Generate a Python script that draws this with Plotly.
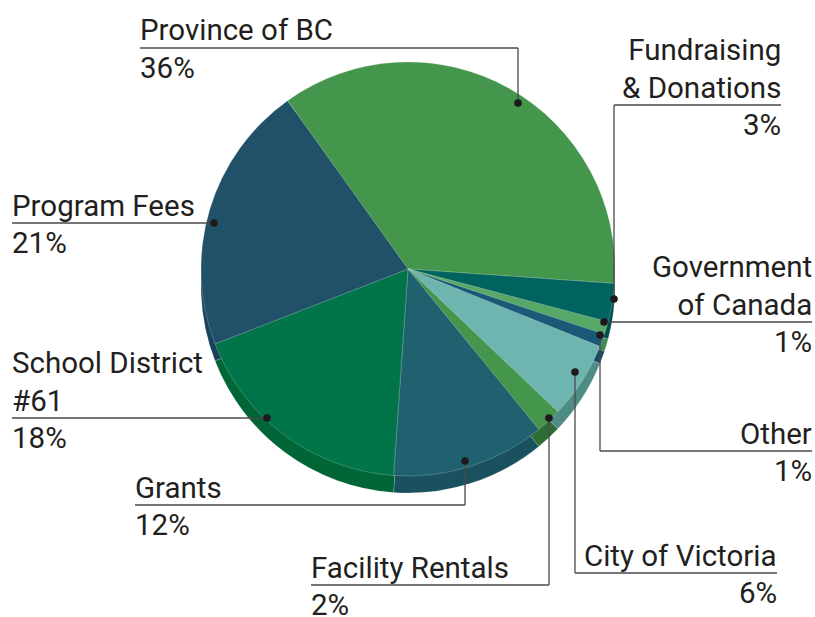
import plotly.graph_objects as go

W, H = 815, 617

labels = ["Province of BC", "Fundraising & Donations", "Government of Canada", "Other",
          "City of Victoria", "Facility Rentals", "Grants", "School District #61", "Program Fees"]
values = [36, 3, 1, 1, 6, 2, 12, 18, 21]
top_colors = ["#43964C", "#00635F", "#55A865", "#1A5A78", "#6DB5AE",
              "#43964C", "#20616F", "#01744A", "#205168"]
side_colors = ["#367A3E", "#004E4B", "#428A50", "#134A63", "#4F8C86",
               "#2E6E35", "#19515E", "#006638", "#18435A"]
label_texts = ["Province of BC", "Fundraising<br>& Donations", "Government<br>of Canada", "Other",
               "City of Victoria", "Facility Rentals", "Grants", "School District<br>#61", "Program Fees"]
pct_texts = ["36%", "3%", "1%", "1%", "6%", "2%", "12%", "18%", "21%"]

# leader layout (pixels): dot, underline y, underline span, text side
leaders = [
    dict(dot=(518, 103), uy=48, x0=140, x1=518, side="left"),
    dict(dot=(614, 299), uy=105, x0=614, x1=781, side="right"),
    dict(dot=(604, 322), uy=322, x0=604, x1=812, side="right"),
    dict(dot=(600, 335), uy=451, x0=600, x1=812, side="right"),
    dict(dot=(575, 372), uy=573, x0=575, x1=777, side="right"),
    dict(dot=(549, 418), uy=585, x0=311, x1=549, side="left"),
    dict(dot=(465, 461), uy=505, x0=135, x1=465, side="left"),
    dict(dot=(267, 418), uy=418, x0=12, x1=267, side="left"),
    dict(dot=(214, 223), uy=223, x0=12, x1=214, side="left"),
]

cx, cy, r, depth = 408, 269, 207, 17
rotation = -35.6

def dom(cx, cy, r):
    return dict(x=[(cx - r) / W, (cx + r) / W], y=[1 - (cy + r) / H, 1 - (cy - r) / H])

fig = go.Figure()
fig.add_trace(go.Pie(labels=labels, values=values, sort=False, direction="clockwise",
                     rotation=rotation, textinfo="none", hoverinfo="skip",
                     marker=dict(colors=side_colors, line=dict(color="rgba(255,255,255,0.25)", width=0.6)),
                     domain=dom(cx, cy + depth, r), showlegend=False))
fig.add_trace(go.Pie(labels=labels, values=values, sort=False, direction="clockwise",
                     rotation=rotation, textinfo="none", hoverinfo="label+percent",
                     marker=dict(colors=top_colors, line=dict(color="rgba(255,255,255,0.35)", width=0.6)),
                     domain=dom(cx, cy, r), showlegend=False))

shapes = []
annotations = []
font = dict(family="Roboto", size=29.5, color="#231F20")
for i, L in enumerate(leaders):
    dx, dy = L["dot"]
    uy = L["uy"]
    line_style = dict(color="#4A4A4C", width=1.3)
    shapes.append(dict(type="line", x0=L["x0"], x1=L["x1"], y0=uy, y1=uy,
                       xref="x", yref="y", line=line_style, layer="above"))
    if abs(dy - uy) > 1:
        vx = L["x1"] if L["side"] == "left" else L["x0"]
        shapes.append(dict(type="line", x0=vx, x1=vx, y0=dy, y1=uy,
                           xref="x", yref="y", line=line_style, layer="above"))
    shapes.append(dict(type="circle", x0=dx - 3.8, x1=dx + 3.8, y0=dy - 3.8, y1=dy + 3.8,
                       xref="x", yref="y", fillcolor="#1E1A1B", line=dict(width=0), layer="above"))
    if L["side"] == "left":
        tx, xa, al = L["x0"] - 2, "left", "left"
    else:
        tx, xa, al = L["x1"] + 2, "right", "right"
    annotations.append(dict(x=tx, y=uy + 1.5, xref="x", yref="y", text=label_texts[i],
                            xanchor=xa, yanchor="bottom", align=al, showarrow=False, font=font))
    annotations.append(dict(x=tx, y=uy + 1, xref="x", yref="y", text=pct_texts[i],
                            xanchor=xa, yanchor="top", align=al, showarrow=False, font=font))

fig.update_layout(
    width=W, height=H, margin=dict(l=0, r=0, t=0, b=0),
    paper_bgcolor="white", plot_bgcolor="white",
    xaxis=dict(range=[0, W], visible=False, fixedrange=True),
    yaxis=dict(range=[H, 0], visible=False, fixedrange=True),
    shapes=shapes, annotations=annotations, showlegend=False,
)
fig.write_html("out.html", config={"displayModeBar": False},
               post_script="document.body.style.margin='0';document.body.style.overflow='hidden';")
